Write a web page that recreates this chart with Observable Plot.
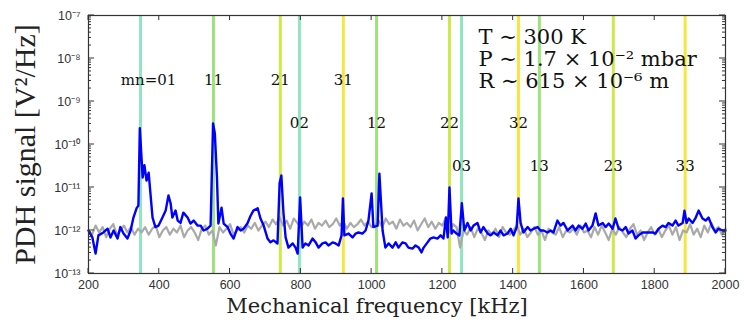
<!DOCTYPE html>
<html><head><meta charset="utf-8">
<script src="https://cdn.jsdelivr.net/npm/d3@7"></script>
<script src="https://cdn.jsdelivr.net/npm/@observablehq/plot@0.6"></script>
<style>body{margin:0;background:#fff}</style>
</head><body><div id="chart"></div>
<script>
// ---- data ----
const blueFreq = [
  200,211,220,228,242,254,262,271,282,290,
  299,310,319,327,336,341,345,353,358,364,
  370,375,381,389,398,409,418,426,432,437,
  446,452,460,468,480,488,497,508,517,525,
  536,545,552,557,563,567,576,582,593,601,
  610,621,630,638,649,658,666,678,686,695,
  706,714,723,734,740,745,751,757,765,777,
  785,791,798,805,813,822,833,842,850,861,
  870,878,890,898,907,915,919,923,935,946,
  955,963,974,983,991,1000,1005,1017,1022,1031,
  1039,1048,1059,1068,1076,1087,1096,1104,1116,1124,
  1133,1141,1147,1158,1166,1175,1186,1195,1203,1210,
  1215,1220,1226,1231,1240,1248,1255,1262,1271,1280,
  1288,1299,1308,1316,1328,1336,1345,1356,1364,1373,
  1384,1393,1401,1410,1415,1421,1429,1441,1449,1458,
  1469,1477,1486,1497,1506,1514,1525,1534,1542,1554,
  1559,1568,1576,1585,1596,1605,1613,1624,1633,1641,
  1653,1661,1670,1681,1689,1698,1709,1718,1726,1737,
  1746,1754,1766,1774,1783,1794,1802,1811,1822,1831,
  1839,1850,1859,1867,1879,1884,1890,1896,1907,1916,
  1924,1935,1944,1952,1963,1972,1980,1992,2000
];
const bluePsd = [
  1.0e-12,6.9e-13,2.9e-13,7.7e-13,9.0e-13,1.1e-12,6.9e-13,1.0e-12,6.5e-13,1.2e-12,
  8.5e-13,6.5e-13,1.0e-12,2.0e-12,3.3e-12,3.8e-12,2.4e-10,1.7e-11,3.3e-11,1.45e-11,
  2.2e-11,7.3e-12,2.0e-12,1.2e-12,1.3e-12,2.0e-12,2.9e-12,6.5e-12,4.3e-12,2.0e-12,
  2.9e-12,1.7e-12,1.5e-12,2.6e-12,2.0e-12,1.45e-12,1.7e-12,1.3e-12,1.3e-12,1.0e-12,
  1.1e-12,1.3e-12,3.1e-10,1.8e-10,1.7e-11,1.45e-12,3.4e-12,1.45e-12,1.2e-12,8.5e-13,
  6.5e-13,1.2e-12,1.0e-12,1.1e-12,1.45e-12,2.2e-12,2.9e-12,3.3e-12,1.9e-12,1.3e-12,
  6.5e-13,5.3e-13,5.9e-13,5.0e-13,1.25e-11,1.9e-11,2.5e-12,6.9e-13,4.0e-13,5.0e-13,
  4.0e-13,2.9e-13,5.9e-12,4.0e-13,5.0e-13,4.5e-13,6.5e-13,5.3e-13,4.0e-13,5.0e-13,
  5.3e-13,4.5e-13,5.3e-13,5.0e-13,4.5e-13,7.7e-13,5.6e-12,7.7e-13,8.5e-13,6.9e-13,
  8.5e-13,9.0e-13,8.5e-13,1.0e-12,1.7e-12,7.3e-12,1.2e-12,1.3e-12,2.1e-11,1.0e-12,
  4.0e-13,5.0e-13,4.0e-13,5.3e-13,4.0e-13,5.3e-13,5.0e-13,4.0e-13,3.8e-13,4.5e-13,
  4.0e-13,3.1e-13,4.0e-13,5.3e-13,6.5e-13,6.9e-13,6.5e-13,7.7e-13,6.5e-13,2.0e-12,
  6.9e-13,1.0e-11,8.5e-13,1.0e-12,8.5e-13,7.7e-13,4.3e-12,1.0e-12,1.5e-12,1.0e-12,
  1.3e-12,1.5e-12,9.0e-13,1.2e-12,8.5e-13,7.7e-13,9.0e-13,7.7e-13,1.0e-12,7.7e-13,
  8.5e-13,1.1e-12,7.7e-13,1.2e-12,5.6e-12,1.5e-12,9.0e-13,1.2e-12,1.0e-12,1.1e-12,
  1.2e-12,1.0e-12,1.0e-12,9.0e-13,1.0e-12,9.0e-13,1.7e-12,1.3e-12,1.5e-12,1.0e-12,
  1.1e-12,1.3e-12,1.0e-12,1.3e-12,1.1e-12,1.45e-12,1.0e-12,1.3e-12,2.5e-12,1.3e-12,
  1.5e-12,1.2e-12,1.45e-12,1.1e-12,1.9e-12,1.1e-12,1.0e-12,1.2e-12,8.5e-13,1.0e-12,
  6.5e-13,7.7e-13,9.0e-13,9.0e-13,9.0e-13,9.0e-13,8.5e-13,1.1e-12,1.3e-12,1.2e-12,
  1.5e-12,1.3e-12,1.7e-12,1.3e-12,1.5e-12,2.9e-12,1.5e-12,1.9e-12,1.5e-12,2.0e-12,
  2.9e-12,1.9e-12,1.7e-12,2.0e-12,1.2e-12,9.0e-13,1.1e-12,1.0e-12,1.0e-12
];
const grayFreq = [
  200,210,220,230,240,250,260,270,280,290,
  300,310,320,330,340,350,360,370,380,390,
  400,410,420,430,440,450,460,470,480,490,
  500,510,520,530,540,550,560,570,580,590,
  600,610,620,630,640,650,660,670,680,690,
  700,710,720,730,740,750,760,770,780,790,
  800,810,820,830,840,850,860,870,880,890,
  900,910,920,930,940,950,960,970,980,990,
  1000,1010,1020,1030,1040,1050,1060,1070,1080,1090,
  1100,1110,1120,1130,1140,1150,1160,1170,1180,1190,
  1200,1210,1220,1230,1240,1250,1260,1270,1280,1290,
  1300,1310,1320,1330,1340,1350,1360,1370,1380,1390,
  1400,1410,1420,1430,1440,1450,1460,1470,1480,1490,
  1500,1510,1520,1530,1540,1550,1560,1570,1580,1590,
  1600,1610,1620,1630,1640,1650,1660,1670,1680,1690,
  1700,1710,1720,1730,1740,1750,1760,1770,1780,1790,
  1800,1810,1820,1830,1840,1850,1860,1870,1880,1890,
  1900,1910,1920,1930,1940,1950,1960,1970,1980,1990,
  2000
];
const grayPsd = [
  1.0e-12,0.8e-12,1.3e-12,0.9e-12,1.2e-12,0.7e-12,1.1e-12,1.4e-12,0.8e-12,1.0e-12,
  1.3e-12,0.9e-12,1.2e-12,0.8e-12,1.1e-12,0.9e-12,1.2e-12,0.8e-12,1.1e-12,1.3e-12,
  0.7e-12,1.0e-12,1.2e-12,0.8e-12,1.1e-12,0.9e-12,1.3e-12,0.7e-12,1.0e-12,1.2e-12,
  0.9e-12,0.6e-12,1.1e-12,1.3e-12,0.8e-12,1.0e-12,0.45e-12,1.2e-12,0.9e-12,1.1e-12,
  1.4e-12,0.8e-12,1.0e-12,1.2e-12,0.9e-12,1.3e-12,1.1e-12,1.5e-12,1.0e-12,1.3e-12,
  1.6e-12,1.2e-12,1.8e-12,1.4e-12,2.0e-12,1.3e-12,1.7e-12,1.1e-12,1.9e-12,1.5e-12,
  1.2e-12,1.6e-12,1.3e-12,1.8e-12,1.1e-12,1.5e-12,1.3e-12,1.7e-12,1.2e-12,1.4e-12,
  1.9e-12,1.3e-12,1.6e-12,1.1e-12,1.5e-12,1.2e-12,1.4e-12,1.8e-12,1.3e-12,1.6e-12,
  1.2e-12,1.3e-12,1.7e-12,1.2e-12,1.9e-12,1.4e-12,1.6e-12,1.1e-12,1.8e-12,1.3e-12,
  1.5e-12,1.2e-12,1.7e-12,1.0e-12,1.4e-12,1.9e-12,1.2e-12,1.6e-12,1.1e-12,1.5e-12,
  1.3e-12,2.0e-12,0.9e-12,1.4e-12,1.2e-12,0.4e-12,1.0e-12,0.8e-12,1.2e-12,0.7e-12,
  1.1e-12,0.9e-12,0.6e-12,1.0e-12,0.8e-12,1.1e-12,0.7e-12,1.2e-12,0.9e-12,0.8e-12,
  1.0e-12,1.3e-12,0.8e-12,1.1e-12,0.7e-12,0.9e-12,1.2e-12,0.8e-12,1.0e-12,0.6e-12,
  1.1e-12,0.9e-12,0.8e-12,1.2e-12,0.7e-12,1.0e-12,0.9e-12,1.1e-12,0.8e-12,1.3e-12,
  0.9e-12,1.0e-12,0.7e-12,1.2e-12,0.8e-12,1.3e-12,0.9e-12,0.6e-12,1.1e-12,0.8e-12,
  1.2e-12,0.9e-12,0.7e-12,1.1e-12,1.4e-12,0.8e-12,1.0e-12,0.6e-12,0.9e-12,1.2e-12,
  0.8e-12,1.1e-12,0.7e-12,1.0e-12,1.3e-12,0.8e-12,1.2e-12,0.6e-12,1.0e-12,0.9e-12,
  1.4e-12,0.8e-12,1.1e-12,0.7e-12,1.3e-12,0.9e-12,1.5e-12,1.0e-12,1.2e-12,0.8e-12,
  1.1e-12
];
const modeLabels = ["01","11","21","31","02","12","22","32","03","13","23","33"];
const modeFreqs  = [347, 553, 742, 920, 796, 1014, 1220, 1415, 1254, 1474, 1683, 1886];
const xTicks = [200,400,600,800,1000,1200,1400,1600,1800,2000];
const yTicks = [1e-13,1e-12,1e-11,1e-10,1e-9,1e-8,1e-7];
const annotationLines = ["T \u223C 300 K", "P \u223C 1.7 \u00D7 10\u207B\u00B2 mbar", "R \u223C 615 \u00D7 10\u207B\u2076 m"];
const xLabel = "Mechanical frequency [kHz]";
const yLabel = "PDH signal [V\u00B2/Hz]";

// ---- build ----
const blue = blueFreq.map((f, i) => ({f, p: bluePsd[i]}));
const gray = grayFreq.map((f, i) => ({f, p: grayPsd[i]}));
const modeColor = {"0": "#8fe6bf", "1": "#9de27a", "2": "#cfe84a", "3": "#f7e63c"};
const modes = modeLabels.map((m, i) => ({label: i === 0 ? "mn=" + m : m, freq: modeFreqs[i], m: m[0], n: +m[1]}));
const labelY = d => 3.1e-9 / Math.pow(10, d.n - 1);
const sup = {"-": "\u207B", "0": "\u2070", "1": "\u00B9", "2": "\u00B2", "3": "\u00B3", "4": "\u2074", "5": "\u2075", "6": "\u2076", "7": "\u2077", "8": "\u2078", "9": "\u2079"};
const fmtPow = v => "10" + String(Math.round(Math.log10(v))).replace(/./g, c => sup[c]);

const serif = "DejaVu Serif, serif";
const chart = Plot.plot({
  width: 744, height: 323,
  marginLeft: 88, marginRight: 19, marginTop: 15, marginBottom: 50,
  style: {background: "#fff", fontFamily: "Liberation Sans, Arial, sans-serif", overflow: "visible"},
  x: {domain: [200, 2000]},
  y: {type: "log", domain: [1e-13, 1e-7]},
  color: {type: "identity"},
  marks: [
    Plot.ruleX(modes, {x: "freq", stroke: d => modeColor[d.m], strokeWidth: 3}),
    Plot.line(gray, {x: "f", y: "p", stroke: "#a9a9a9", strokeWidth: 2.2}),
    Plot.line(blue, {x: "f", y: "p", stroke: "#0000ff", strokeWidth: 2.4}),
    Plot.text(modes.filter((d, i) => i === 0), {x: "freq", y: labelY, text: "label", dx: 8, fontFamily: serif, fontSize: 15, fill: "#111"}),
    Plot.text(modes.filter((d, i) => i > 0), {x: "freq", y: labelY, text: "label", fontFamily: serif, fontSize: 15, fill: "#111"}),
    Plot.text([annotationLines.join("\n")], {text: d => d, frameAnchor: "top-left", textAnchor: "start", lineAnchor: "top", dx: 390, dy: 13, lineHeight: 1.04, fontFamily: serif, fontSize: 21, fill: "#111"}),
    Plot.text([xLabel], {text: d => d, frameAnchor: "bottom", textAnchor: "middle", lineAnchor: "middle", dx: -30, dy: 33, fontFamily: serif, fontSize: 21, fill: "#222"}),
    Plot.text([yLabel], {text: d => d, frameAnchor: "left", textAnchor: "middle", lineAnchor: "middle", rotate: -90, dx: -63, fontFamily: "Liberation Serif, serif", fontSize: 30, fill: "#222"}),
    Plot.axisX({ticks: xTicks, tickSize: 0, tickPadding: 7, fontSize: 12.5, color: "#333", label: null, tickFormat: d => String(d)}),
    Plot.axisY({ticks: yTicks, tickSize: 0, tickPadding: 8, fontSize: 12.5, color: "#333", label: null, tickFormat: fmtPow}),
    Plot.frame({stroke: "#333", strokeWidth: 1.2})
  ]
});
document.getElementById("chart").appendChild(chart);

// inward ticks drawn through Plot's own scales
const sx = chart.scale("x"), sy = chart.scale("y");
const g = d3.select(chart).append("g").attr("stroke", "#333").attr("stroke-width", 1);
const xL = sx.apply(200), xR = sx.apply(2000), yB = sy.apply(1e-13), yT = sy.apply(1e-7);
xTicks.forEach(v => {
  const x = sx.apply(v);
  g.append("line").attr("x1", x).attr("x2", x).attr("y1", yB).attr("y2", yB - 5);
  g.append("line").attr("x1", x).attr("x2", x).attr("y1", yT).attr("y2", yT + 5);
});
for (let e = -13; e <= -7; e++) {
  for (let k = 1; k <= 9; k++) {
    if (e === -7 && k > 1) break;
    const y = sy.apply(k * Math.pow(10, e));
    const len = k === 1 ? 6 : 3;
    g.append("line").attr("x1", xL).attr("x2", xL + len).attr("y1", y).attr("y2", y);
    g.append("line").attr("x1", xR).attr("x2", xR - len).attr("y1", y).attr("y2", y);
  }
}
</script>
</body></html>
